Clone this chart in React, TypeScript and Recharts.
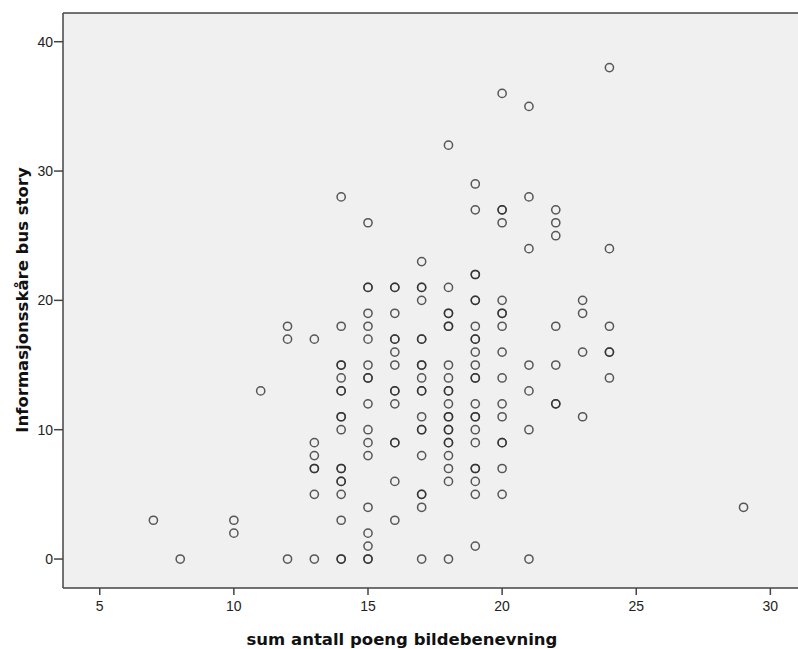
import { ScatterChart, Scatter, XAxis, YAxis, CartesianGrid, ReferenceLine, Label } from "recharts";

// sum antall poeng bildebenevning -> informasjonsskåre values (repeated value = overlapping cases)
const at7 = [3];
const at8 = [0];
const at10 = [3, 2];
const at11 = [13];
const at12 = [18, 17, 0];
const at13 = [17, 9, 8, 7, 7, 5, 0];
const at14 = [28, 18, 15, 15, 14, 13, 13, 11, 11, 10, 7, 7, 6, 6, 5, 3, 0, 0];
const at15 = [26, 21, 21, 19, 18, 17, 15, 14, 14, 12, 10, 9, 8, 4, 2, 1, 0, 0];
const at16 = [21, 21, 19, 17, 17, 16, 15, 13, 13, 12, 9, 9, 6, 3];
const at17 = [23, 21, 21, 20, 17, 17, 15, 15, 14, 13, 13, 11, 10, 10, 8, 5, 5, 4, 0];
const at18 = [32, 21, 19, 19, 18, 18, 15, 14, 13, 13, 12, 11, 11, 10, 10, 9, 9, 8, 7, 6, 0];
const at19 = [29, 27, 22, 22, 20, 20, 18, 17, 17, 16, 15, 14, 14, 12, 11, 11, 10, 9, 7, 7, 6, 5, 1];
const at20 = [36, 27, 27, 26, 20, 19, 19, 18, 16, 14, 12, 11, 9, 9, 7, 5];
const at21 = [35, 28, 24, 15, 13, 10, 0];
const at22 = [27, 26, 25, 18, 15, 12, 12];
const at23 = [20, 19, 16, 11];
const at24 = [38, 24, 18, 16, 16, 14];
const at29 = [4];

const columns: [number, number[]][] = [
  [7, at7], [8, at8], [10, at10], [11, at11], [12, at12], [13, at13], [14, at14],
  [15, at15], [16, at16], [17, at17], [18, at18], [19, at19], [20, at20],
  [21, at21], [22, at22], [23, at23], [24, at24], [29, at29],
];

const xTicks = [5, 10, 15, 20, 25, 30];
const yTicks = [0, 10, 20, 30, 40];
const xDomain = [3.63, 31.03];
const yDomain = [-2.24, 42.22];

const points = columns.flatMap(([x, ys]) => ys.map((y) => ({ x, y })));

const tickStyle = { fontFamily: "'Liberation Sans', Arial, sans-serif", fontSize: 14, fill: "#222" };
const titleStyle = { fontFamily: "'DejaVu Sans', sans-serif", fontSize: 16.5, fontWeight: 700, fill: "#111" };

const Ring = (props: any) => (
  <circle cx={props.cx} cy={props.cy} r={4.1} fill="none" stroke="#2a2a2a" strokeOpacity={0.78} strokeWidth={1.5} />
);

export default function App() {
  return (
    <div style={{ position: "absolute", left: 0, top: 0, background: "#fff" }}>
      <ScatterChart width={798} height={649} margin={{ top: 13, right: 0, bottom: 0, left: 0 }}>
        <CartesianGrid horizontal={false} vertical={false} fill="#f0f0f0" />
        <XAxis
          type="number"
          dataKey="x"
          domain={xDomain}
          ticks={xTicks}
          allowDataOverflow
          height={61}
          tick={tickStyle}
          tickSize={7}
          tickMargin={6}
          stroke="#444"
          strokeWidth={1.5}
        >
          <Label
            content={() => (
              <text x={402} y={645} textAnchor="middle" style={titleStyle}>
                sum antall poeng bildebenevning
              </text>
            )}
          />
        </XAxis>
        <YAxis
          type="number"
          dataKey="y"
          domain={yDomain}
          ticks={yTicks}
          allowDataOverflow
          width={63}
          tick={tickStyle}
          tickSize={9}
          tickMargin={1}
          stroke="#444"
          strokeWidth={1.5}
        >
          <Label
            content={() => (
              <text x={28} y={300} transform="rotate(-90 28 300)" textAnchor="middle" style={titleStyle}>
                Informasjonsskåre bus story
              </text>
            )}
          />
        </YAxis>
        <ReferenceLine y={yDomain[1]} stroke="#444" strokeWidth={1.5} />
        <Scatter data={points} shape={Ring} isAnimationActive={false} />
      </ScatterChart>
    </div>
  );
}
